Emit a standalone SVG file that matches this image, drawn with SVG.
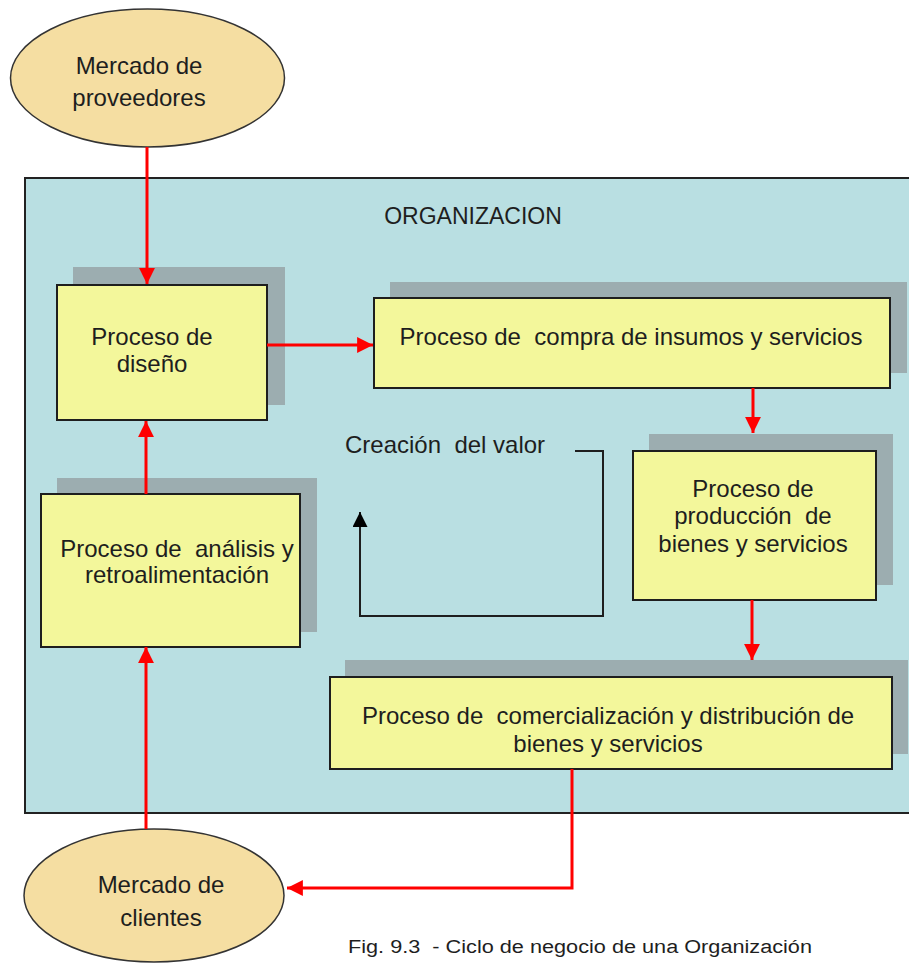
<svg xmlns="http://www.w3.org/2000/svg" width="909" height="963" viewBox="0 0 909 963">
<style>
.t{font-family:"Liberation Sans",Arial,sans-serif;fill:#1e1e1e;white-space:pre}
.m{font-size:24px;text-anchor:middle}
.box{fill:#F3F79B;stroke:#1e1e1e;stroke-width:2}
.sh{fill:#9CADB0}
.ell{fill:#F5DEA2;stroke:#333;stroke-width:1.5}
.red{fill:none;stroke:#FF0000;stroke-width:3}
.blk{fill:none;stroke:#1e1e1e;stroke-width:2}
</style>
<defs>
<marker id="ar" viewBox="0 0 10 10" refX="10" refY="5" markerWidth="5.3" markerHeight="5.3" markerUnits="strokeWidth" orient="auto">
<path d="M0,0 L10,5 L0,10 z" fill="#FF0000"/>
</marker>
<marker id="ab" viewBox="0 0 10 10" refX="10" refY="5" markerWidth="7.5" markerHeight="7.5" markerUnits="strokeWidth" orient="auto">
<path d="M0,0 L10,5 L0,10 z" fill="#000"/>
</marker>
</defs>
<rect width="909" height="963" fill="#fff"/>
<g id="organizacion">
<rect x="25" y="178" width="900" height="635" fill="#B9DFE2" stroke="#222" stroke-width="2"/>
<text class="t" x="473" y="224" font-size="23" text-anchor="middle">ORGANIZACION</text>
</g>
<g id="mercado-proveedores">
<ellipse class="ell" cx="147.5" cy="78" rx="137" ry="69"/>
<text class="t m" x="139" y="74">Mercado de</text>
<text class="t m" x="139" y="106">proveedores</text>
</g>
<g id="diseno">
<rect class="sh" x="73" y="267" width="212" height="138"/>
<rect class="box" x="57" y="285" width="210" height="135"/>
<text class="t m" x="152" y="345">Proceso de</text>
<text class="t m" x="152" y="372">diseño</text>
</g>
<g id="compra">
<rect class="sh" x="390" y="282" width="517" height="91"/>
<rect class="box" x="374" y="298" width="516" height="90"/>
<text class="t m" x="631" y="345">Proceso de  compra de insumos y servicios</text>
</g>
<g id="produccion">
<rect class="sh" x="649" y="434" width="244" height="151"/>
<rect class="box" x="633" y="451" width="243" height="149"/>
<text class="t m" x="753" y="497">Proceso de</text>
<text class="t m" x="753" y="524">producción  de</text>
<text class="t m" x="753" y="552">bienes y servicios</text>
</g>
<g id="analisis">
<rect class="sh" x="57" y="478" width="260" height="154"/>
<rect class="box" x="41" y="494" width="259" height="153"/>
<text class="t m" x="177" y="557">Proceso de  análisis y</text>
<text class="t m" x="177" y="583">retroalimentación</text>
</g>
<g id="comercializacion">
<rect class="sh" x="345" y="660" width="563" height="94"/>
<rect class="box" x="330" y="677" width="562" height="92"/>
<text class="t m" x="608" y="724">Proceso de  comercialización y distribución de</text>
<text class="t m" x="608" y="752">bienes y servicios</text>
</g>
<g id="mercado-clientes">
<ellipse class="ell" cx="154" cy="895.5" rx="130" ry="66.5"/>
<text class="t m" x="161" y="893">Mercado de</text>
<text class="t m" x="161" y="926">clientes</text>
</g>
<g id="creacion-valor">
<text class="t" x="345" y="453" font-size="24">Creación  del valor</text>
</g>
<g id="connectors">
<line class="red" x1="147" y1="147" x2="147" y2="284" marker-end="url(#ar)"/>
<line class="red" x1="267" y1="345" x2="373" y2="345" marker-end="url(#ar)"/>
<line class="red" x1="753" y1="388" x2="753" y2="433" marker-end="url(#ar)"/>
<line class="red" x1="752" y1="600" x2="752" y2="660" marker-end="url(#ar)"/>
<polyline class="red" points="572,769 572,888 287,888" marker-end="url(#ar)"/>
<line class="red" x1="146" y1="829" x2="146" y2="647" marker-end="url(#ar)"/>
<line class="red" x1="146" y1="494" x2="146" y2="421" marker-end="url(#ar)"/>
<polyline class="blk" points="575,451 603,451 603,616 360,616 360,512" marker-end="url(#ab)"/>
</g>
<text class="t" x="348" y="953" font-size="18" textLength="464" lengthAdjust="spacingAndGlyphs">Fig. 9.3  - Ciclo de negocio de una Organización</text>
</svg>
